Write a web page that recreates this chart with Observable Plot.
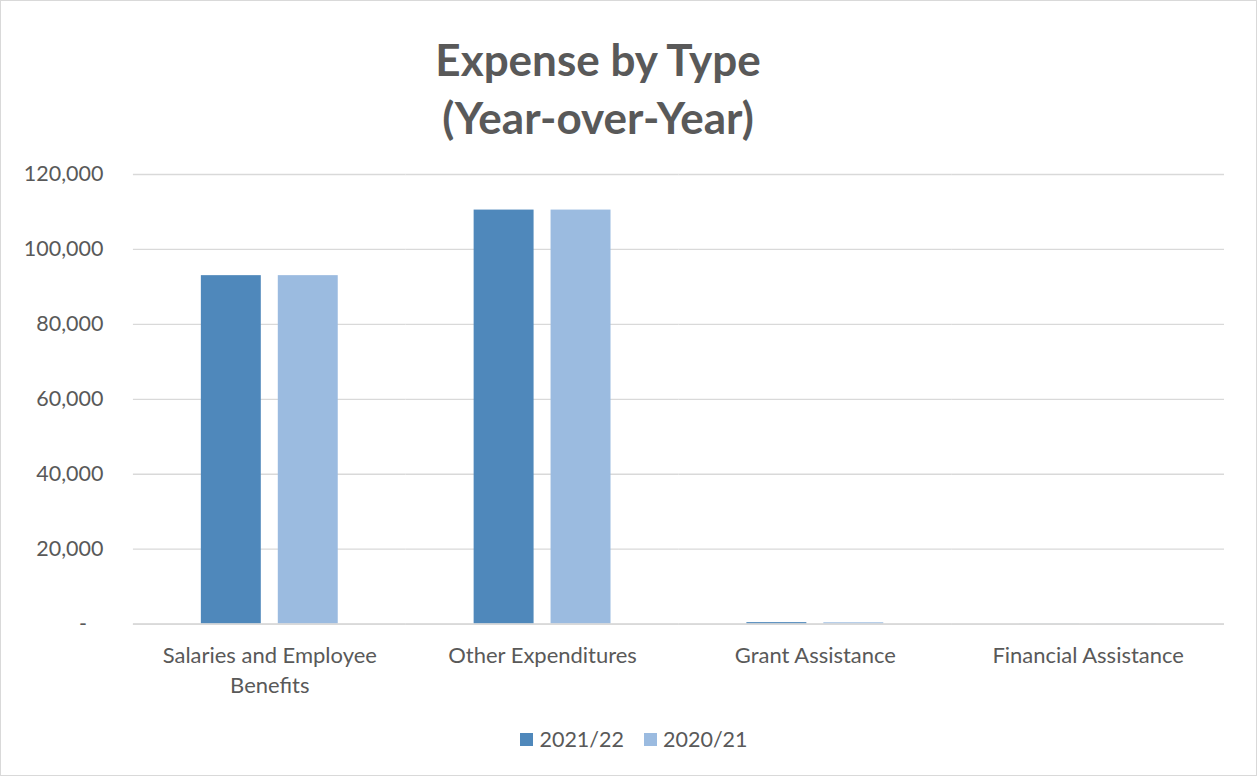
<!DOCTYPE html>
<html><head><meta charset="utf-8">
<script src="https://cdn.jsdelivr.net/npm/d3@7"></script>
<script src="https://cdn.jsdelivr.net/npm/@observablehq/plot@0.6"></script>
<style>
body{margin:0;background:#fff;font-family:Lato,"Open Sans",sans-serif;}
#frame{position:relative;width:1257px;height:776px;box-sizing:border-box;border:1px solid #d9d9d9;background:#fff;overflow:hidden}
#title{position:absolute;top:29px;left:0;width:1194px;text-align:center;font-weight:700;font-size:44px;line-height:58px;color:#595959}
#chart{position:absolute;top:150px;left:-1px}
#legend{position:absolute;top:725px;left:0;width:1266px;display:flex;justify-content:center;gap:20px;font-size:21.5px;color:#595959}
#legend .item{display:flex;align-items:center;gap:6px}
#legend .sw{width:13px;height:13px;display:inline-block}
</style></head>
<body>
<div id="frame">
  <div id="title">Expense by Type<br>(Year-over-Year)</div>
  <div id="chart"></div>
  <div id="legend"></div>
</div>
<script>
const categories = ["Salaries and Employee Benefits", "Other Expenditures", "Grant Assistance", "Financial Assistance"];
const categoryLabels = ["Salaries and Employee\nBenefits", "Other Expenditures", "Grant Assistance", "Financial Assistance"];
const series = ["2021/22", "2020/21"];
const values2122 = [93000, 110500, 400, 30];
const values2021 = [93000, 110500, 350, 30];
const colors = ["#4f88bb", "#9bbbe0"];
const yTicks = [0, 20000, 40000, 60000, 80000, 100000, 120000];

const data = [];
categories.forEach((c, i) => {
  data.push({category: c, series: series[0], value: values2122[i]});
  data.push({category: c, series: series[1], value: values2021[i]});
});
const labelMap = new Map(categories.map((c, i) => [c, categoryLabels[i]]));
const fmt = d3.format(",");

const chart = Plot.plot({
  width: 1257, height: 570,
  marginTop: 23, marginBottom: 97, marginLeft: 131, marginRight: 31,
  style: {fontFamily: "Lato, 'Open Sans', sans-serif", fontSize: "21px", color: "#595959", background: "transparent"},
  fx: {domain: categories, padding: 0, label: null, axis: null},
  x: {domain: series, paddingInner: 0.218, paddingOuter: 0.865, axis: null},
  y: {domain: [0, 120000], axis: null},
  color: {domain: series, range: colors},
  marks: [
    Plot.gridY(yTicks, {stroke: "#d9d9d9", strokeOpacity: 1, strokeWidth: 1.3}),
    Plot.barY(data, {fx: "category", x: "series", y: "value", fill: "series"}),
    Plot.ruleY([0], {stroke: "#d9d9d9", strokeWidth: 1.6}),
    Plot.axisY(yTicks, {tickSize: 0, tickPadding: 30, fontSize: 21.5, fill: "#595959", label: null,
      tickFormat: d => d === 0 ? "-\u00a0\u00a0\u00a0" : fmt(d)}),
    Plot.axisFx({anchor: "bottom", tickSize: 0, tickPadding: 18, fontSize: 22, fill: "#595959",
      lineHeight: 1.35, label: null, tickFormat: d => labelMap.get(d)})
  ]
});
document.getElementById("chart").appendChild(chart);

const legend = document.getElementById("legend");
series.forEach((s, i) => {
  const item = document.createElement("span");
  item.className = "item";
  const sw = document.createElement("span");
  sw.className = "sw";
  sw.style.background = colors[i];
  const t = document.createElement("span");
  t.textContent = s;
  item.appendChild(sw); item.appendChild(t);
  legend.appendChild(item);
});
</script>
</body></html>
